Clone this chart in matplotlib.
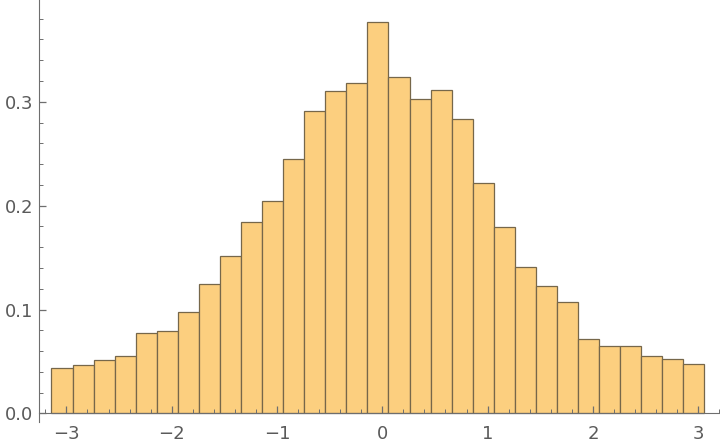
import numpy as np
import matplotlib
matplotlib.use("Agg")
import matplotlib.pyplot as plt
from matplotlib.ticker import MultipleLocator

# histogram bins: width 0.2 starting at -pi
bin_start = -np.pi
bin_width = 0.2
heights = [0.0434, 0.0462, 0.0511, 0.0549, 0.0771, 0.0790, 0.0973, 0.1243,
           0.1512, 0.1840, 0.2042, 0.2447, 0.2909, 0.3102, 0.3179, 0.3767,
           0.3237, 0.3025, 0.3112, 0.2832, 0.2216, 0.1792, 0.1407, 0.1223,
           0.1069, 0.0713, 0.0645, 0.0645, 0.0549, 0.0520, 0.0472]

lefts = bin_start + bin_width * np.arange(len(heights))

fig = plt.figure(figsize=(7.2, 4.44), dpi=100)
ax = fig.add_axes([38.7 / 720, 22.3 / 444, 1 - 38.7 / 720, 1 - 22.3 / 444])

ax.bar(lefts, heights, width=bin_width, align="edge",
       color="#fccf7f", edgecolor="#76674a", linewidth=0.9)

ax.set_xlim(-3.263, 3.207)
ax.set_ylim(-0.008, 0.398)

axis_col = "#6e6e6e"
for s in ["top", "right"]:
    ax.spines[s].set_visible(False)
ax.spines["bottom"].set_position(("data", 0))
ax.spines["bottom"].set_color(axis_col)
ax.spines["left"].set_color(axis_col)

ax.xaxis.set_major_locator(MultipleLocator(1))
ax.xaxis.set_minor_locator(MultipleLocator(0.2))
ax.yaxis.set_major_locator(MultipleLocator(0.1))
ax.yaxis.set_minor_locator(MultipleLocator(0.02))
ax.set_xticks([-3, -2, -1, 0, 1, 2, 3])
ax.set_xticklabels(["\u22123", "\u22122", "\u22121", "0", "1", "2", "3"])
ax.set_yticks([0.0, 0.1, 0.2, 0.3])
ax.set_yticklabels(["0.0", "0.1", "0.2", "0.3"])

ax.tick_params(which="both", direction="in", color=axis_col, labelcolor="#5a5a5a",
               labelsize=13)
ax.tick_params(which="major", length=5, width=0.9)
ax.tick_params(which="minor", length=3, width=0.7)
ax.tick_params(axis="x", pad=8)
ax.tick_params(axis="y", pad=4)

fig.savefig("out.png", dpi=100)
